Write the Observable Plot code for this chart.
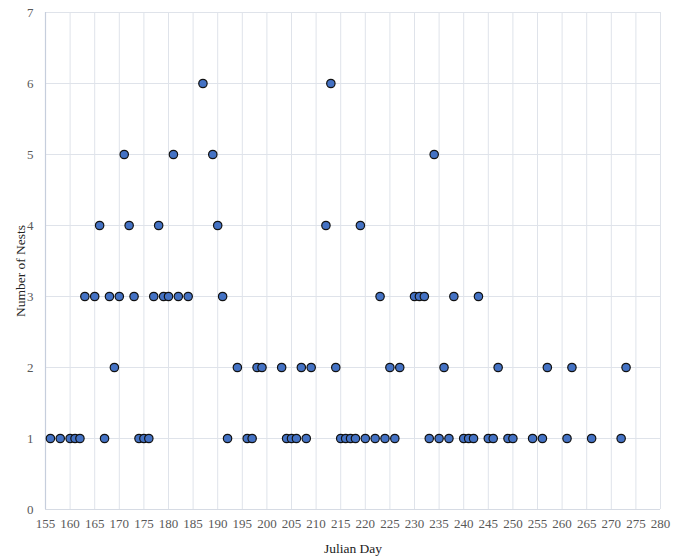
<!DOCTYPE html>
<html>
<head>
<meta charset="utf-8">
<script src="https://cdn.jsdelivr.net/npm/d3@7"></script>
<script src="https://cdn.jsdelivr.net/npm/@observablehq/plot@0.6"></script>
<style>
  html, body { margin: 0; padding: 0; background: #fff; }
  svg { display: block; }
  svg, svg text { font-family: "Liberation Serif", "Times New Roman", serif !important; }
</style>
</head>
<body>
<div id="chart"></div>
<script>
const days1 = [156,158,160,161,162,167,174,175,176,192,196,197,204,205,206,208,215,216,217,218,220,222,224,226,233,235,237,240,241,242,245,246,249,250,254,256,261,266,272];
const days2 = [169,194,198,199,203,207,209,214,225,227,236,247,257,262,273];
const days3 = [163,165,168,170,173,177,179,180,182,184,191,223,230,231,232,238,243];
const days4 = [166,172,178,190,212,219];
const days5 = [171,181,189,234];
const days6 = [187,213];
const xTicks = d3.range(155, 281, 5);
const yTicks = [0,1,2,3,4,5,6,7];

const groups = [[1,days1],[2,days2],[3,days3],[4,days4],[5,days5],[6,days6]];
const data = groups.flatMap(([n, ds]) => ds.map(d => ({day: d, nests: n})));

const chart = Plot.plot({
  width: 682,
  height: 559,
  marginLeft: 45,
  marginRight: 22,
  marginTop: 12,
  marginBottom: 50,
  style: {fontFamily: "Liberation Serif", fontSize: "13px", color: "#595959", background: "#fff"},
  x: {domain: [155, 280], ticks: xTicks},
  y: {domain: [0, 7], ticks: yTicks},
  marks: [
    Plot.gridX(xTicks, {stroke: "#dfe3ea", strokeOpacity: 1, strokeWidth: 1}),
    Plot.gridY(yTicks, {stroke: "#dfe3ea", strokeOpacity: 1, strokeWidth: 1}),
    Plot.ruleX([155], {stroke: "#c6cedc", strokeWidth: 1.2}),
    Plot.ruleY([0], {stroke: "#d6dbe4", strokeWidth: 1}),
    Plot.axisX(xTicks, {tickSize: 0, tickPadding: 9, fill: "#595959", tickFormat: d => String(d), label: "Julian Day", labelAnchor: "center", labelOffset: 43, labelArrow: "none"}),
    Plot.axisY(yTicks, {tickSize: 0, tickPadding: 12, fill: "#595959", tickFormat: d => String(d), label: "Number of Nests", labelAnchor: "center", labelOffset: 30, labelArrow: "none"}),
    Plot.dot(data, {x: "day", y: "nests", r: 4.2, fill: "#4472c4", stroke: "#111", strokeWidth: 1.2})
  ]
});
document.getElementById("chart").append(chart);
chart.querySelectorAll("g[aria-label='x-axis label'] text, g[aria-label='y-axis label'] text").forEach(t => {
  t.setAttribute("fill", "#222");
  t.style.fontSize = "13.5px";
});
chart.querySelectorAll("g[aria-label='y-axis label'] text").forEach(t => t.setAttribute("dx", "-10"));
</script>
</body>
</html>
